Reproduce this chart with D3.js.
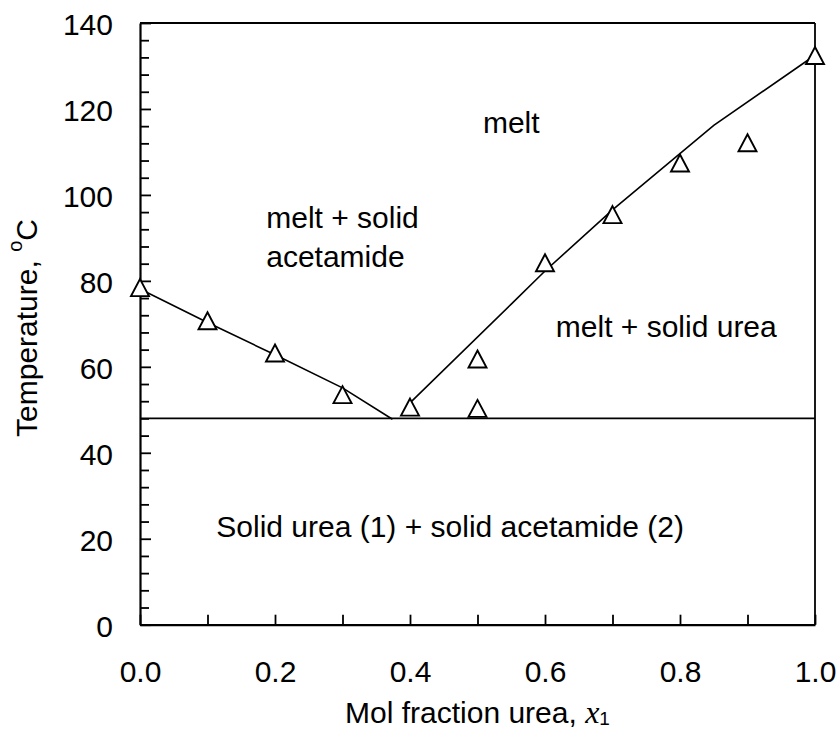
<!DOCTYPE html>
<html>
<head>
<meta charset="utf-8">
<script src="https://cdn.jsdelivr.net/npm/d3@7"></script>
<style>
    body { margin: 0; background: #fff; }
    text { font-family: "Liberation Sans", Arial, sans-serif; fill: #000; }
    .axis path, .axis line { stroke: #000; }
</style>
</head>
<body>
<div id="chart"></div>
<script>
// measured points (triangles)
var molFraction = [0.0, 0.1, 0.2, 0.3, 0.4, 0.5, 0.5, 0.6, 0.7, 0.8, 0.9, 1.0];
var temperature = [78.4, 70.7, 63.2, 53.5, 50.6, 61.8, 50.3, 84.2, 95.4, 107.4, 112.1, 132.4];

// liquidus lines
var leftCurveX = [0.0, 0.1, 0.2, 0.3, 0.374];
var leftCurveT = [78.1, 70.3, 62.8, 55.1, 47.8];
var rightCurveX = [0.40, 0.55, 0.60, 0.70, 0.85, 1.0];
var rightCurveT = [51.6, 74.6, 82.3, 96.5, 116.2, 132.5];

// eutectic temperature
var eutecticT = 48.0;

// ticks
var xTicks = [0, 0.1, 0.2, 0.3, 0.4, 0.5, 0.6, 0.7, 0.8, 0.9, 1.0];
var xLabelTicks = [0, 0.2, 0.4, 0.6, 0.8, 1.0];
var yMajorTicks = [0, 20, 40, 60, 80, 100, 120, 140];
var yMinorTicks = [4, 8, 12, 16, 24, 28, 32, 36, 44, 48, 52, 56, 64, 68, 72, 76,
    84, 88, 92, 96, 104, 108, 112, 116, 124, 128, 132, 136];

// region labels (anchored in data units)
var regionLabels = ["melt", "melt + solid", "acetamide", "melt + solid urea", "Solid urea (1) + solid acetamide (2)"];
var regionX = [0.508, 0.187, 0.187, 0.616, 0.113];
var regionT = [114.4, 92.3, 83.2, 66.9, 20.4];

var margin = { top: 23, right: 24, bottom: 121.3, left: 140 },
    width = 839 - margin.left - margin.right,
    height = 746 - margin.top - margin.bottom;

var svg = d3.select("#chart")
    .append("svg")
    .attr("width", 839)
    .attr("height", 746)
    .append("g")
    .attr("transform", "translate(" + margin.left + "," + margin.top + ")");

var x = d3.scaleLinear().domain([0, 1]).range([0, width]);
var y = d3.scaleLinear().domain([0, 140]).range([height, 0]);

var line = d3.line()
    .x(function(d) { return x(d[0]); })
    .y(function(d) { return y(d[1]); });

// eutectic line
svg.append("line")
    .attr("x1", x(0)).attr("x2", x(1))
    .attr("y1", y(eutecticT)).attr("y2", y(eutecticT))
    .attr("stroke", "#000")
    .attr("stroke-width", 1.8);

// liquidus
svg.append("path")
    .datum(d3.zip(leftCurveX, leftCurveT))
    .attr("fill", "none")
    .attr("stroke", "#000")
    .attr("stroke-width", 1.6)
    .attr("d", line);

svg.append("path")
    .datum(d3.zip(rightCurveX, rightCurveT))
    .attr("fill", "none")
    .attr("stroke", "#000")
    .attr("stroke-width", 1.6)
    .attr("d", line);

// minor y ticks
svg.append("g")
    .attr("class", "axis")
    .call(d3.axisLeft(y)
        .tickValues(yMinorTicks)
        .tickSizeInner(-9)
        .tickSizeOuter(0)
        .tickFormat(""))
    .call(function(g) { g.select(".domain").remove(); })
    .selectAll("line").attr("stroke-width", 1.8);

// y axis
var yAxis = svg.append("g")
    .attr("class", "axis")
    .call(d3.axisLeft(y)
        .tickValues(yMajorTicks)
        .tickSizeInner(-11)
        .tickSizeOuter(0)
        .tickPadding(27)
        .tickFormat(d3.format("d")));
yAxis.select(".domain").attr("stroke-width", 2.2);
yAxis.selectAll("line").attr("stroke-width", 1.8);
yAxis.selectAll("text").attr("font-size", 30).attr("dy", "0.39em")
    .style("font-family", "'Liberation Sans', Arial, sans-serif");

// x axis
var xAxis = svg.append("g")
    .attr("class", "axis")
    .attr("transform", "translate(0," + height + ")")
    .call(d3.axisBottom(x)
        .tickValues(xTicks)
        .tickSizeInner(-10)
        .tickSizeOuter(0)
        .tickPadding(36)
        .tickFormat(function(d) {
            return xLabelTicks.some(function(v) { return Math.abs(v - d) < 1e-9; }) ? d3.format(".1f")(d) : "";
        }));
xAxis.select(".domain").attr("stroke-width", 2.2);
xAxis.selectAll("line").attr("stroke-width", 1.8);
xAxis.selectAll("text").attr("font-size", 30)
    .style("font-family", "'Liberation Sans', Arial, sans-serif");

// top and right border
svg.append("line")
    .attr("x1", x(0)).attr("x2", x(1))
    .attr("y1", y(140)).attr("y2", y(140))
    .attr("stroke", "#000").attr("stroke-width", 1.8);
svg.append("line")
    .attr("x1", x(1)).attr("x2", x(1))
    .attr("y1", y(140)).attr("y2", y(0))
    .attr("stroke", "#000").attr("stroke-width", 1.8);

// triangles
svg.selectAll(".pt")
    .data(d3.zip(molFraction, temperature))
    .enter().append("path")
    .attr("class", "pt")
    .attr("transform", function(d) { return "translate(" + x(d[0]) + "," + y(d[1]) + ")"; })
    .attr("d", "M0,-8.6 L9,8.4 L-9,8.4 Z")
    .attr("fill", "#fff")
    .attr("stroke", "#000")
    .attr("stroke-width", 1.9);

// region labels
svg.selectAll(".region")
    .data(regionLabels)
    .enter().append("text")
    .attr("class", "region")
    .attr("x", function(d, i) { return x(regionX[i]); })
    .attr("y", function(d, i) { return y(regionT[i]); })
    .attr("font-size", 30)
    .text(function(d) { return d; });

// x title
var xt = svg.append("text")
    .attr("x", width / 2)
    .attr("y", 723 - margin.top)
    .attr("text-anchor", "middle")
    .attr("font-size", 30);
xt.append("tspan").text("Mol fraction urea, ");
xt.append("tspan")
    .style("font-family", "'Liberation Serif', 'Times New Roman', serif")
    .style("font-style", "italic")
    .attr("font-size", 32)
    .text("x");
xt.append("tspan")
    .attr("font-size", 19)
    .attr("dy", 2)
    .text("1");

// y title
var yt = svg.append("text")
    .attr("transform", "translate(" + (36.5 - margin.left) + "," + (328 - margin.top) + ") rotate(-90)")
    .attr("text-anchor", "middle")
    .attr("font-size", 30);
yt.append("tspan").text("Temperature, ");
yt.append("tspan")
    .attr("font-size", 20)
    .attr("dy", -15)
    .text("o");
yt.append("tspan")
    .attr("dy", 15)
    .text("C");
</script>
</body>
</html>
